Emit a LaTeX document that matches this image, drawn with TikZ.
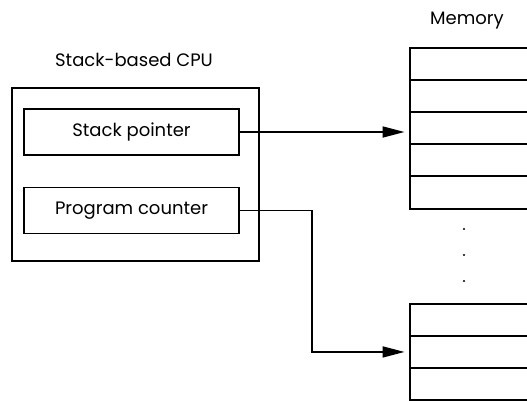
\documentclass[tikz,border=0pt]{standalone}
\usepackage{fontspec}
\setmainfont{Poppins}
\usetikzlibrary{arrows.meta}
\begin{document}
\begin{tikzpicture}[x=1pt,y=-1pt,
  box/.style={draw, line width=1.9pt, inner sep=0pt},
  regbox/.style={box, minimum width=215pt, minimum height=46pt, font=\fontsize{18}{20}\selectfont},
  memrow/.style={box, minimum width=140pt, minimum height=32pt, anchor=north west},
  lbl/.style={inner sep=0pt, font=\fontsize{18}{20}\selectfont},
  conn/.style={line width=1.8pt, -{Triangle[length=22pt,width=11pt]}, shorten >=4.5pt},
  dot/.style={circle, fill, inner sep=0pt, minimum size=2.4pt}]
\useasboundingbox (0,0) rectangle (527,400);
\clip (0,0) rectangle (527,400);
% CPU
\node[box, minimum width=247pt, minimum height=173pt] (cpu) at (135.5,174.5) {};
\node[lbl] (cpulbl) at (134,60) {Stack-based CPU};
\node[regbox] (sp) at (131.5,132) {Stack pointer};
\node[regbox] (pc) at (131.5,210.5) {Program counter};
% Memory
\node[lbl] (memlbl) at (467,21) {Memory};
\node[memrow] (m1) at (409,47) {};
\node[memrow] (m2) at (409,79) {};
\node[memrow] (m3) at (409,111) {};
\node[memrow] (m4) at (409,143) {};
\node[memrow, minimum height=33pt] (m5) at (409,175) {};
\node[dot] (d1) at (464,229) {};
\node[dot] (d2) at (464,255) {};
\node[dot] (d3) at (464,281) {};
\node[memrow] (b1) at (409,303) {};
\node[memrow] (b2) at (409,335) {};
\node[memrow] (b3) at (409,367) {};
% connectors
\coordinate (bend) at (312,0);
\draw[conn] (sp.east) -- (sp.east -| m3.west);
\draw[conn] (pc.east) -- (pc.east -| bend) |- (b2.west);
\end{tikzpicture}
\end{document}
